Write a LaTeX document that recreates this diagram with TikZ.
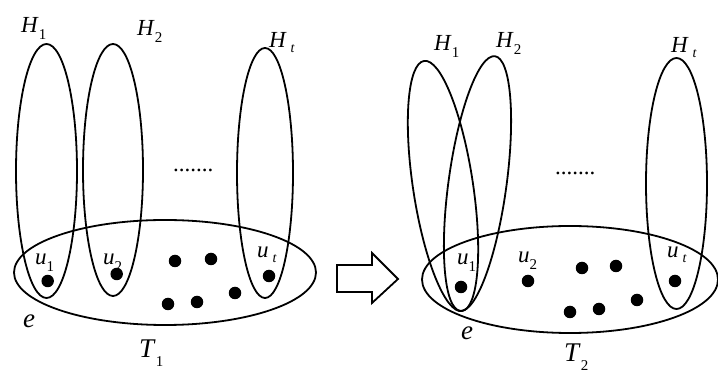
\documentclass[tikz,border=0pt]{standalone}
\usepackage{fontspec}
\setmainfont{Liberation Serif}
\usetikzlibrary{shapes.geometric}
\newcommand{\lbl}[2]{\textit{#1}\raisebox{-0.3em}{\fontsize{15}{15}\selectfont #2}}
\newcommand{\lblt}[1]{\textit{#1}\,\raisebox{-0.2em}{\fontsize{14}{14}\selectfont\textit{t}}}
\begin{document}
\begin{tikzpicture}[x=1pt,y=1pt,
  hyper/.style={draw, line width=1.8pt, ellipse, inner sep=0pt},
  vtx/.style={circle, fill=black, inner sep=0pt, minimum size=12.5pt},
  txt/.style={anchor=base west, inner sep=0pt, font=\fontsize{23}{25}\selectfont},
  big/.style={anchor=base west, inner sep=0pt, font=\fontsize{27}{29}\selectfont}]
\useasboundingbox (0,0) rectangle (718,372);
% ---------- left panel ----------
\node[hyper, minimum width=61pt, minimum height=254pt] (lh1) at (46.5,201) {};
\node[hyper, minimum width=60pt, minimum height=252pt] (lh2) at (113,202) {};
\node[hyper, minimum width=56pt, minimum height=250pt] (lht) at (265,199) {};
\node[hyper, minimum width=302pt, minimum height=105pt] (le) at (165,99.5) {};
\foreach \p [count=\i] in {(47.7,91),(116.7,98),(175,111),(211,113),(269,96),(168,68),(197,70),(235,79)}
  \node[vtx] (lv\i) at \p {};
\node[txt] (lH1) at (21,339) {\lbl{H}{1}};
\node[txt] (lH2) at (137,336) {\lbl{H}{2}};
\node[txt] (lHt) at (269,324) {\lblt{H}};
\node[txt] (lu1) at (35,107) {\lbl{u}{1}};
\node[txt] (lu2) at (103,107) {\lbl{u}{2}};
\node[txt] (lut) at (257,114) {\lblt{u}};
\node[big] (le1) at (23,44) {\textit{e}};
\node[big] (lT) at (139,14) {\lbl{T}{1}};
\node[txt] (ldots) at (173,200) {.......};
% ---------- arrow ----------
\draw[line width=1.8pt, line join=miter] (337,107) -- (372,107) -- (372,119) -- (398,93) -- (372,69) -- (372,80) -- (337,80) -- cycle;
% ---------- right panel ----------
\node[hyper, minimum width=60pt, minimum height=253pt, rotate=8.6] (rh1) at (443,186) {};
\node[hyper, minimum width=58pt, minimum height=257pt, rotate=-7.8] (rh2) at (477.5,188.5) {};
\node[hyper, minimum width=61pt, minimum height=251pt] (rht) at (676.5,188.5) {};
\node[hyper, minimum width=296pt, minimum height=107pt] (re) at (570,92.5) {};
\foreach \p [count=\i] in {(461,85),(528,91),(582,104),(616,106),(675,91),(570,60),(599,63),(637,72)}
  \node[vtx] (rv\i) at \p {};
\node[txt] (rH1) at (434,321) {\lbl{H}{1}};
\node[txt] (rH2) at (496,324) {\lbl{H}{2}};
\node[txt] (rHt) at (671,319) {\lblt{H}};
\node[txt] (ru1) at (457,107) {\lbl{u}{1}};
\node[txt] (ru2) at (518,109) {\lbl{u}{2}};
\node[txt] (rut) at (667,114) {\lblt{u}};
\node[big] (re1) at (461,32) {\textit{e}};
\node[big] (rT) at (564,10) {\lbl{T}{2}};
\node[txt] (rdots) at (555,197) {.......};
\end{tikzpicture}
\end{document}
